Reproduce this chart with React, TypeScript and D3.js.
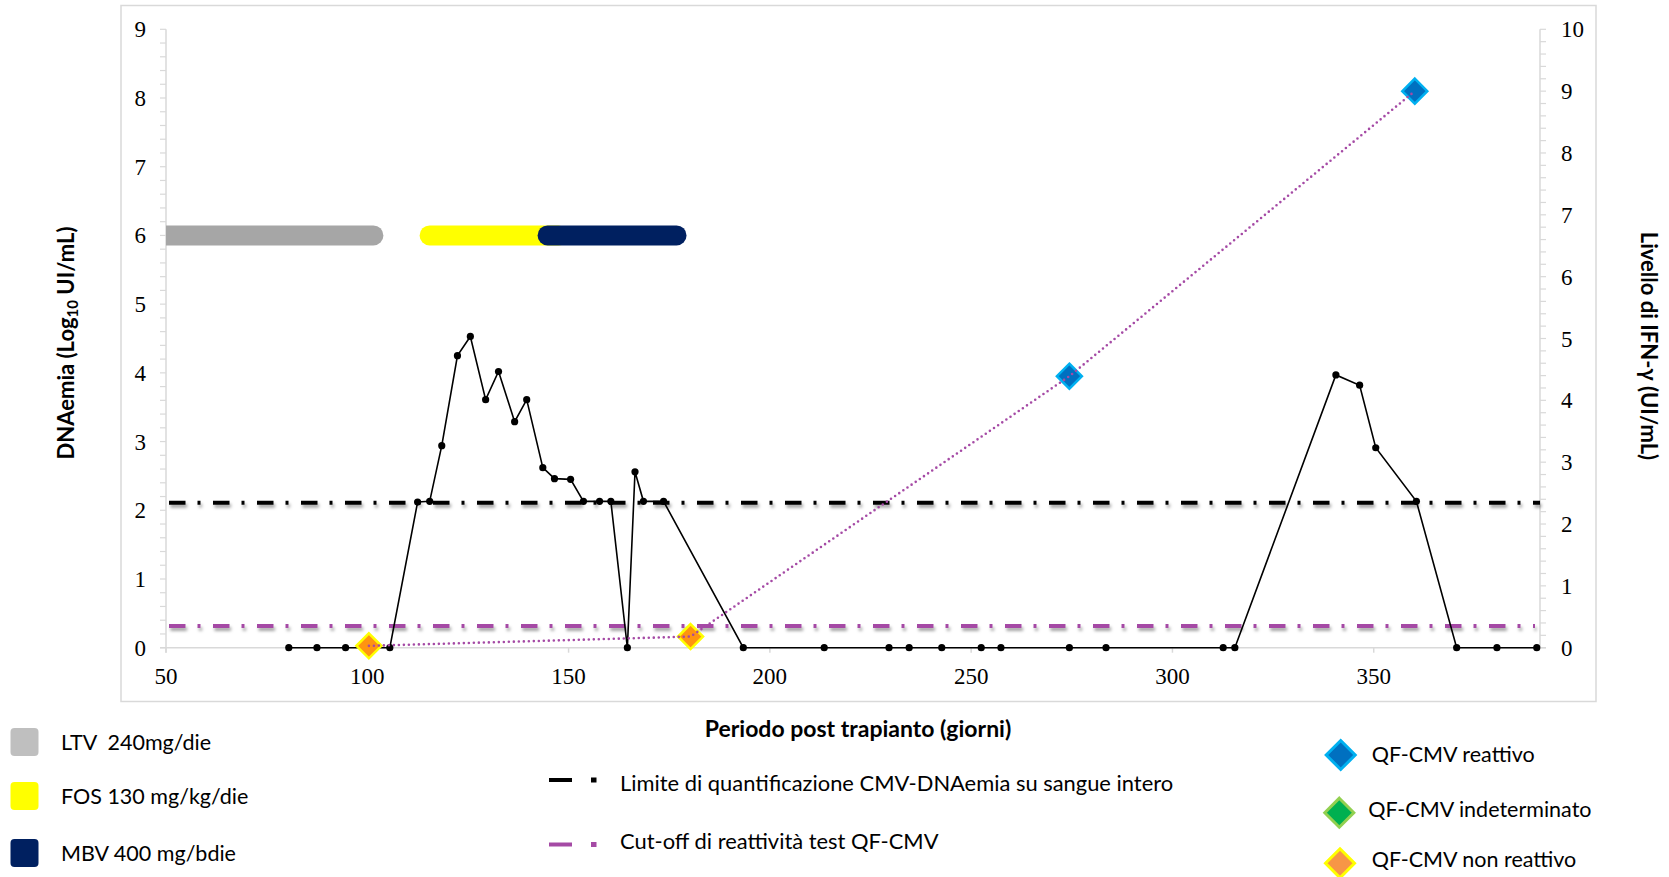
import React from 'react';
import * as d3 from 'd3';

// ---------- data ----------
const dnaDays = [80.5, 87.5, 94.6, 101, 105.6, 112.5, 115.5, 118.5, 122.4, 125.6, 129.4, 132.6, 136.6, 139.6, 143.6, 146.5, 150.5, 153.7, 157.7, 160.5, 164.6, 166.5, 168.6, 173.6, 193.4, 213.5, 229.6, 234.6, 242.7, 252.5, 257.4, 274.4, 283.5, 312.6, 315.5, 340.6, 346.5, 350.5, 360.6, 370.6, 380.6, 390.5];
const dnaLog = [0, 0, 0, 0, 0, 2.12, 2.13, 2.94, 4.25, 4.53, 3.61, 4.02, 3.29, 3.61, 2.62, 2.46, 2.45, 2.13, 2.13, 2.13, 0, 2.56, 2.13, 2.13, 0, 0, 0, 0, 0, 0, 0, 0, 0, 0, 0, 3.97, 3.82, 2.91, 2.13, 0, 0, 0];

const qfDays = [100.4, 180.3, 274.4, 360.2];
const qfIfn = [0.03, 0.18, 4.39, 9.0];
const qfStatus = ['non', 'non', 'reattivo', 'reattivo'];

const loqLog = 2.11;
const cutoffIfn = 0.35;

const therapyNames = ['LTV', 'FOS', 'MBV'];
const therapyStart = [40, 113, 142.3];
const therapyEnd = [104, 150, 179.3];
const therapyLevel = 6;

const xTicks = [50, 100, 150, 200, 250, 300, 350];
const yLeftTicks = [0, 1, 2, 3, 4, 5, 6, 7, 8, 9];
const yRightTicks = [0, 1, 2, 3, 4, 5, 6, 7, 8, 9, 10];

const legendTherapy = ['LTV\u00a0\u00a0240mg/die', 'FOS 130 mg/kg/die', 'MBV 400 mg/bdie'];
const legendLines = ['Limite di quantificazione CMV-DNAemia su sangue intero', 'Cut-off di reattività test QF-CMV'];
const legendQF = ['QF-CMV reattivo', 'QF-CMV indeterminato', 'QF-CMV non reattivo'];

// ---------- styles ----------
const W = 1669, H = 877;
const therapyColor: Record<string, string> = { LTV: '#A6A6A6', FOS: '#FFFF00', MBV: '#002060' };
const swatchColor = ['#BFBFBF', '#FFFF00', '#002060'];
const qfFill: Record<string, string> = { reattivo: '#0070C0', ind: '#00B050', non: '#FF9410' };
const qfStroke: Record<string, string> = { reattivo: '#00B0F0', ind: '#92D050', non: '#FFFF00' };
const purple = '#A54AA5';
const gridGray = '#D9D9D9';
const sans = 'Lato, "Open Sans", sans-serif';
const serif = '"Liberation Serif", "DejaVu Serif", serif';

const diamond = (h: number) => `M0,${-h}L${h},0L0,${h}L${-h},0Z`;

export default function App() {
  const x = d3.scaleLinear().domain([50, 391.3]).range([166, 1540]);
  const yL = d3.scaleLinear().domain([0, 9]).range([647.7, 29.3]);
  const yR = d3.scaleLinear().domain([0, 10]).range([647.7, 29.3]);

  const dnaPts: [number, number][] = dnaDays.map((d, i) => [d, dnaLog[i]]);
  const dnaLine = d3.line<[number, number]>().x(d => x(d[0])).y(d => yL(d[1]))(dnaPts) || '';
  const qfPts: [number, number][] = qfDays.map((d, i) => [d, qfIfn[i]]);
  const qfLine = d3.line<[number, number]>().x(d => x(d[0])).y(d => yR(d[1]))(qfPts) || '';

  const leftMinor = d3.range(0, 9.001, 0.2);
  const rightMinor = d3.range(0, 10.001, 0.2);
  const x0 = x(50), x1 = x.range()[1];

  const dashPattern = '16.5 12 3 12.5';

  return (
    <svg width={W} height={H} style={{ position: 'absolute', left: 0, top: 0, background: '#fff' }}>
      <defs>
        <clipPath id="plotClip">
          <rect x={x0} y={0} width={x1 - x0} height={H} />
        </clipPath>
        <filter id="shadow" filterUnits="userSpaceOnUse" x={0} y={0} width={W} height={H}>
          <feDropShadow dx="1.5" dy="3" stdDeviation="1.5" floodColor="#000" floodOpacity="0.35" />
        </filter>
      </defs>
      <rect x={0} y={0} width={W} height={H} fill="#fff" />
      {/* frame */}
      <rect x={121} y={5.5} width={1475} height={696} fill="none" stroke={gridGray} strokeWidth={1.5} />

      {/* axes */}
      <line x1={x0} x2={x0} y1={yL(9)} y2={yL(0) + 5} stroke={gridGray} strokeWidth={1.5} />
      <line x1={x1} x2={x1} y1={yR(10)} y2={yR(0)} stroke={gridGray} strokeWidth={1.5} />
      <line x1={x0 - 6} x2={x1 + 6} y1={yL(0)} y2={yL(0)} stroke={gridGray} strokeWidth={1.5} />
      {leftMinor.map((v, i) => (
        <line key={'lm' + i} x1={x0 - 6} x2={x0} y1={yL(v)} y2={yL(v)} stroke={gridGray} strokeWidth={1.2} />
      ))}
      {rightMinor.map((v, i) => (
        <line key={'rm' + i} x1={x1} x2={x1 + 6} y1={yR(v)} y2={yR(v)} stroke={gridGray} strokeWidth={1.2} />
      ))}
      {xTicks.map(t => (
        <line key={'xt' + t} x1={x(t)} x2={x(t)} y1={yL(0)} y2={yL(0) + 5} stroke={gridGray} strokeWidth={1.5} />
      ))}

      {/* tick labels */}
      {yLeftTicks.map(t => (
        <text key={'yl' + t} x={146} y={yL(t)} dy="0.35em" textAnchor="end" fontFamily={serif} fontSize={23} fill="#000">{t}</text>
      ))}
      {yRightTicks.map(t => (
        <text key={'yr' + t} x={1561} y={yR(t)} dy="0.35em" textAnchor="start" fontFamily={serif} fontSize={23} fill="#000">{t}</text>
      ))}
      {xTicks.map(t => (
        <text key={'xl' + t} x={x(t)} y={676} dy="0.35em" textAnchor="middle" fontFamily={serif} fontSize={23} fill="#000">{t}</text>
      ))}

      {/* axis titles */}
      <text transform="translate(74,343) rotate(-90)" textAnchor="middle" fontFamily={sans} fontWeight="bold" fontSize={22} fill="#000">
        DNAemia (Log<tspan fontSize={15} dy={4}>10</tspan><tspan dy={-4}> UI/mL)</tspan>
      </text>
      <text transform="translate(1641,346) rotate(90)" textAnchor="middle" fontFamily={sans} fontWeight="bold" fontSize={22} fill="#000">
        Livello di IFN-γ (UI/mL)
      </text>
      <text x={858} y={737} textAnchor="middle" fontFamily={sans} fontWeight="bold" fontSize={23} fill="#000">
        Periodo post trapianto (giorni)
      </text>

      {/* therapy bars */}
      <g clipPath="url(#plotClip)">
        {therapyNames.map((n, i) => (
          <rect key={n} x={x(therapyStart[i])} width={x(therapyEnd[i]) - x(therapyStart[i])}
            y={yL(therapyLevel) - 10} height={20} rx={10} fill={therapyColor[n]} />
        ))}
      </g>

      {/* threshold lines */}
      <line x1={x0 + 3} x2={x1} y1={yL(loqLog)} y2={yL(loqLog)} stroke="#000" strokeWidth={4}
        strokeDasharray={dashPattern} filter="url(#shadow)" />
      <line x1={x0 + 3} x2={x1 - 5} y1={yR(cutoffIfn)} y2={yR(cutoffIfn)} stroke={purple} strokeWidth={4}
        strokeDasharray={dashPattern} filter="url(#shadow)" />

      {/* DNAemia */}
      <path d={dnaLine} fill="none" stroke="#000" strokeWidth={1.6} />
      {dnaPts.map((p, i) => (
        <circle key={'d' + i} cx={x(p[0])} cy={yL(p[1])} r={3.6} fill="#000" />
      ))}

      {/* QF-CMV */}
      {qfPts.map((p, i) => (
        <path key={'q' + i} d={diamond(12.5)} transform={`translate(${x(p[0])},${yR(p[1])})`}
          fill={qfFill[qfStatus[i]]} stroke={qfStroke[qfStatus[i]]} strokeWidth={2.5} strokeLinejoin="miter" />
      ))}
      <path d={qfLine} fill="none" stroke={purple} strokeWidth={2.6} strokeDasharray="0 5" strokeLinecap="round" />

      {/* legend: therapies */}
      {legendTherapy.map((t, i) => {
        const cy = [742, 796, 853][i];
        return (
          <g key={'lt' + i}>
            <rect x={10.5} y={cy - 14} width={28} height={28} rx={4} fill={swatchColor[i]} />
            <text x={61} y={cy} dy="0.35em" fontFamily={sans} fontSize={21.5} fill="#000">{t}</text>
          </g>
        );
      })}

      {/* legend: lines */}
      {legendLines.map((t, i) => {
        const cy = [780, 844.5][i];
        const ty = [783.5, 841][i];
        const c = i === 0 ? '#000' : purple;
        return (
          <g key={'ll' + i}>
            <line x1={549} x2={572} y1={cy} y2={cy} stroke={c} strokeWidth={4} />
            <rect x={591} y={cy - 2.5} width={5.5} height={5} fill={c} />
            <text x={620} y={ty} dy="0.35em" fontFamily={sans} fontSize={21.9} fill="#000">{t}</text>
          </g>
        );
      })}

      {/* legend: QF-CMV */}
      {legendQF.map((t, i) => {
        const cy = [755, 812.7, 863.3][i];
        const ty = [754, 809.5, 859.5][i];
        const k = ['reattivo', 'ind', 'non'][i];
        const fill = k === 'non' ? '#F79646' : qfFill[k];
        return (
          <g key={'lq' + i}>
            <path d={diamond(14.5)} transform={`translate(${[1340.7, 1339.3, 1340][i]},${cy})`}
              fill={fill} stroke={qfStroke[k]} strokeWidth={3} />
            <text x={[1371.7, 1368.3, 1371.7][i]} y={ty} dy="0.35em" fontFamily={sans} fontSize={21.5} fill="#000">{t}</text>
          </g>
        );
      })}
    </svg>
  );
}
